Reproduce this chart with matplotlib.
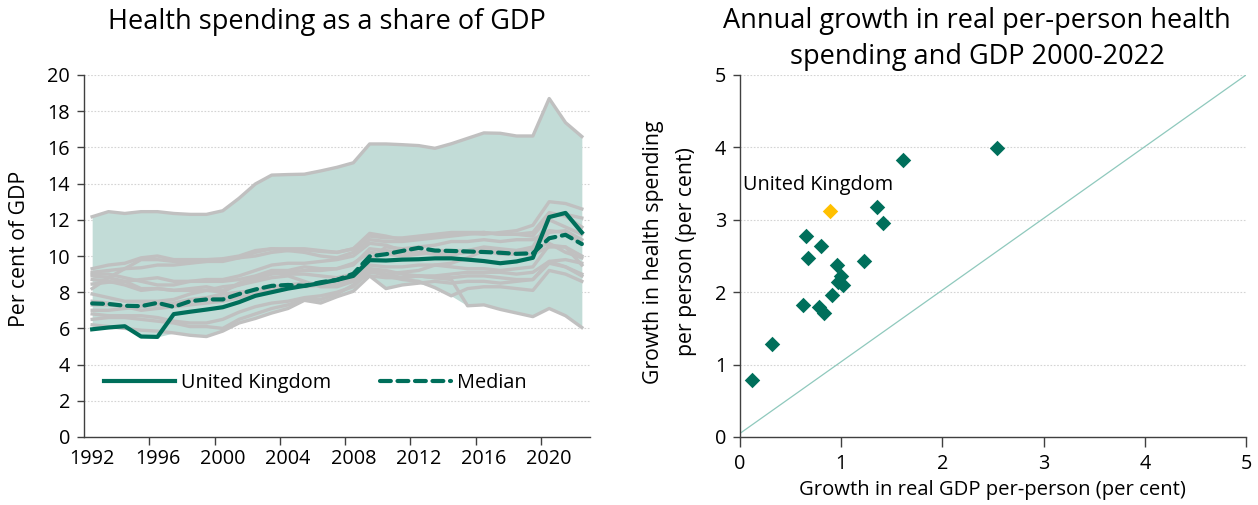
import numpy as np
import matplotlib
matplotlib.use("Agg")
import matplotlib.pyplot as plt
from matplotlib.lines import Line2D

plt.rcParams['font.family'] = ['Open Sans', 'DejaVu Sans']

# ---------------- data: left panel ----------------
years = list(range(1992, 2023))
year_ticks = [1992, 1996, 2000, 2004, 2008, 2012, 2016, 2020]

uk = [5.95, 6.05, 6.12, 5.55, 5.53, 6.79, 6.92, 7.04, 7.17, 7.45, 7.8, 8.0, 8.2, 8.35, 8.5, 8.68,
      8.9, 9.77, 9.75, 9.8, 9.82, 9.87, 9.87, 9.8, 9.72, 9.6, 9.7, 9.9, 12.15, 12.38, 11.3]
median = [7.38, 7.35, 7.25, 7.23, 7.41, 7.19, 7.5, 7.6, 7.6, 7.9, 8.15, 8.35, 8.4, 8.35, 8.55, 8.68,
          9.02, 9.98, 10.1, 10.28, 10.45, 10.3, 10.28, 10.25, 10.22, 10.18, 10.12, 10.15, 10.98, 11.17, 10.66]

country_us = [12.17, 12.45, 12.35, 12.45, 12.45, 12.35, 12.3, 12.3, 12.5, 13.19, 13.98, 14.47, 14.5, 14.52,
              14.7, 14.9, 15.15, 16.19, 16.19, 16.15, 16.1, 15.95, 16.2, 16.5, 16.8, 16.78, 16.63, 16.63,
              18.7, 17.37, 16.6]
country_a = [9.3, 9.5, 9.6, 9.9, 10.0, 9.8, 9.8, 9.8, 9.85, 10.0, 10.3, 10.4, 10.3, 10.35, 10.25, 10.2,
             10.4, 11.25, 11.1, 10.9, 11.0, 11.1, 11.2, 11.25, 11.2, 11.3, 11.4, 11.7, 13.0, 12.9, 12.6]
country_b = [8.2, 8.8, 9.3, 9.8, 9.8, 9.7, 9.7, 9.7, 9.8, 9.9, 10.2, 10.4, 10.4, 10.4, 10.3, 10.2,
             10.4, 11.1, 11.0, 11.0, 11.1, 11.2, 11.3, 11.3, 11.3, 11.2, 11.2, 11.1, 12.2, 12.3, 12.1]
country_c = [9.1, 9.2, 9.3, 9.35, 9.5, 9.5, 9.6, 9.7, 9.7, 9.9, 10.0, 10.2, 10.3, 10.2, 10.0, 9.9,
             10.2, 10.9, 10.8, 10.8, 10.9, 11.0, 11.1, 11.2, 11.3, 11.2, 11.2, 11.3, 12.4, 12.2, 11.6]
country_d = [8.7, 8.6, 8.4, 8.1, 8.2, 8.1, 8.1, 8.1, 8.0, 8.5, 8.8, 9.1, 9.0, 9.0, 8.9, 8.8,
             9.0, 9.8, 10.5, 10.4, 10.5, 10.6, 10.8, 10.8, 10.9, 10.8, 10.9, 10.9, 11.4, 11.3, 10.7]
country_e = [8.9, 8.8, 8.6, 8.2, 8.2, 8.1, 8.2, 8.3, 8.1, 8.4, 8.7, 9.0, 9.1, 9.2, 9.2, 9.3,
             9.6, 10.2, 10.1, 10.0, 10.1, 10.2, 10.1, 10.2, 10.3, 10.1, 10.1, 10.1, 10.5, 10.5, 9.5]
country_f = [8.45, 8.55, 8.6, 8.7, 8.8, 8.6, 8.6, 8.6, 8.6, 8.7, 8.9, 9.2, 9.2, 9.4, 9.3, 9.3,
             9.5, 10.4, 10.3, 10.2, 10.2, 10.3, 10.3, 10.3, 10.4, 10.3, 10.3, 10.4, 11.3, 11.4, 10.9]
country_g = [9.0, 9.0, 8.8, 8.6, 8.4, 8.4, 8.6, 8.7, 8.7, 8.9, 9.2, 9.5, 9.6, 9.6, 9.7, 9.8,
             10.0, 10.7, 10.6, 10.3, 10.2, 10.1, 10.0, 10.3, 10.5, 10.4, 10.3, 10.5, 12.0, 11.6, 11.2]
country_h = [7.9, 7.7, 7.5, 7.5, 7.5, 7.6, 7.9, 8.1, 8.3, 8.4, 8.6, 8.8, 8.9, 8.6, 8.3, 8.3,
             8.6, 9.3, 9.0, 9.1, 9.2, 9.5, 9.6, 9.9, 10.3, 10.2, 10.1, 10.4, 10.7, 10.2, 9.9]
country_i = [7.5, 7.4, 7.2, 7.0, 7.1, 7.2, 7.3, 7.4, 7.5, 7.7, 7.9, 8.1, 8.3, 8.4, 8.4, 8.5,
             8.8, 9.3, 9.2, 9.0, 8.9, 8.8, 8.8, 8.9, 8.9, 8.8, 8.7, 8.7, 9.6, 9.4, 9.0]
country_j = [6.5, 6.6, 6.6, 6.5, 6.4, 6.3, 6.1, 6.1, 6.0, 6.5, 6.8, 7.1, 7.3, 7.6, 7.6, 7.9,
             8.4, 9.1, 9.0, 8.8, 8.9, 8.8, 8.7, 7.25, 7.3, 7.05, 6.85, 6.65, 7.1, 6.7, 6.05]
country_k = [6.8, 6.7, 6.7, 6.7, 6.6, 6.4, 6.3, 6.3, 6.5, 6.9, 7.2, 7.4, 7.5, 7.7, 7.8, 8.0,
             8.3, 9.2, 8.9, 8.7, 8.6, 8.25, 7.8, 8.2, 8.3, 8.3, 8.2, 8.1, 9.2, 9.0, 8.6]
country_l = [6.2, 6.1, 6.0, 5.9, 5.85, 5.75, 5.62, 5.55, 5.85, 6.3, 6.55, 6.85, 7.1, 7.55, 7.4, 7.75,
             8.05, 8.9, 8.2, 8.4, 8.5, 8.6, 8.5, 8.6, 8.6, 8.5, 8.6, 8.7, 9.7, 9.4, 8.9]
country_m = [7.0, 7.0, 7.1, 7.2, 7.3, 7.3, 7.5, 7.6, 7.7, 7.9, 8.1, 8.3, 8.4, 8.5, 8.4, 8.5,
             8.7, 9.5, 9.4, 9.4, 9.5, 9.5, 9.4, 9.3, 9.3, 9.2, 9.3, 9.4, 10.6, 10.5, 10.0]
country_n = [7.3, 7.3, 7.2, 7.3, 7.4, 7.4, 7.6, 7.7, 7.9, 8.0, 8.1, 8.2, 8.4, 8.3, 8.4, 8.5,
             8.6, 8.9, 8.8, 8.8, 8.9, 8.9, 9.0, 9.1, 9.1, 9.1, 9.0, 9.1, 9.7, 9.8, 9.6]

other_countries = [country_us, country_a, country_b, country_c, country_d, country_e, country_f,
                   country_g, country_h, country_i, country_j, country_k, country_l, country_m, country_n]

# ---------------- data: right panel ----------------
gdp_growth = [0.12, 0.32, 0.62, 0.65, 0.67, 0.78, 0.80, 0.83, 0.91, 0.96, 0.97, 1.00, 1.02,
              1.23, 1.35, 1.41, 1.61, 2.54]
health_growth = [0.79, 1.29, 1.82, 2.77, 2.47, 1.80, 2.64, 1.71, 1.96, 2.37, 2.14, 2.22, 2.10,
                 2.43, 3.17, 2.96, 3.82, 3.99]
uk_gdp_growth = [0.89]
uk_health_growth = [3.12]
diag_x = [0, 5]
diag_y = [0.05, 5]

# ---------------- styling ----------------
GREEN = '#006f5b'
GRAY = '#c0c0c0'
FILL = '#c2dcd7'
GRID = '#d4d4d4'
TEXT = '#000000'
FS = 14.3        # tick / legend font size
LFS = 15.3       # axis label font size
TFS = 19.5       # title font size

W, H = 1258, 505
fig = plt.figure(figsize=(W / 100, H / 100), dpi=100)

def fx(px):
    return px / W

def fy(py):
    return 1 - py / H

ax1 = fig.add_axes([fx(84), fy(437), fx(590) - fx(84), fy(75) - fy(437)])
ax2 = fig.add_axes([fx(740), fy(437), fx(1246) - fx(740), fy(75) - fy(437)])

for ax in (ax1, ax2):
    for s in ('top', 'right'):
        ax.spines[s].set_visible(False)
    for s in ('left', 'bottom'):
        ax.spines[s].set_color('#404040')
        ax.spines[s].set_linewidth(1.0)
    ax.grid(axis='y', color=GRID, linestyle=(0, (1.5, 1.5)), linewidth=0.8)
    ax.set_axisbelow(True)
    ax.tick_params(axis='both', labelsize=FS, colors='#404040', labelcolor=TEXT)

# ---- left panel ----
all_series = np.array(other_countries + [uk])
lo = all_series.min(axis=0)
hi = all_series.max(axis=0)
ax1.fill_between(years, lo, hi, color=FILL, linewidth=0, zorder=1)
for s in other_countries:
    ax1.plot(years, s, color=GRAY, linewidth=2.4, solid_joinstyle='round', zorder=2)
ax1.plot(years, median, color=GREEN, linewidth=3.0, linestyle=(0, (2.6, 1.6)),
         dash_capstyle='round', zorder=3)
ax1.plot(years, uk, color=GREEN, linewidth=3.0, solid_joinstyle='round', zorder=4)

ax1.set_xlim(1991.5, 2022.5)
ax1.set_ylim(0, 20)
ax1.set_yticks(range(0, 21, 2))
ax1.set_xticks(year_ticks)
ax1.set_xticks([t - 0.5 for t in year_ticks[1:]], minor=True)
ax1.tick_params(axis='x', which='major', length=0, pad=9)
ax1.tick_params(axis='x', which='minor', length=6, width=1, color='#404040')
ax1.tick_params(axis='y', length=5, width=1, pad=5)

handles = [Line2D([], [], color=GREEN, linewidth=3.0),
           Line2D([], [], color=GREEN, linewidth=3.0, linestyle=(0, (2.6, 1.6)), dash_capstyle='round')]
leg = ax1.legend(handles, ['United Kingdom', 'Median'], loc='center left',
                 bbox_to_anchor=(0.04, 0.148), ncol=2, frameon=False, fontsize=FS,
                 handlelength=3.55, handletextpad=0.3, columnspacing=2.5, borderpad=0,
                 borderaxespad=0)

# ---- right panel ----
ax2.plot(diag_x, diag_y, color='#8fc9bd', linewidth=0.9, zorder=2)
ax2.scatter(gdp_growth, health_growth, marker='D', s=8.3 ** 2 * 0.9, color=GREEN,
            linewidths=0, zorder=3)
ax2.scatter(uk_gdp_growth, uk_health_growth, marker='D', s=8.3 ** 2 * 0.9, color='#ffc000',
            linewidths=0, zorder=4)
ax2.text(0.03, 3.48, 'United Kingdom', fontsize=FS, ha='left', va='center', color=TEXT)
ax2.set_xlim(0, 5)
ax2.set_ylim(0, 5)
ax2.set_xticks(range(0, 6))
ax2.set_yticks(range(0, 6))
ax2.tick_params(axis='x', length=7, width=1, pad=5)
ax2.tick_params(axis='y', length=5, width=1, pad=5)

# ---- titles & labels ----
fig.text(fx(326.5), fy(22), 'Health spending as a share of GDP', fontsize=TFS,
         ha='center', va='center', color=TEXT)
fig.text(fx(977), fy(39), 'Annual growth in real per-person health\nspending and GDP 2000-2022',
         fontsize=TFS, ha='center', va='center', linespacing=1.34, color=TEXT)
fig.text(fx(20), fy(249), 'Per cent of GDP', fontsize=LFS, rotation=90,
         ha='center', va='center', color=TEXT)
fig.text(fx(670), fy(252), 'Growth in health spending\nper person (per cent)', fontsize=LFS,
         rotation=90, ha='center', va='center', linespacing=1.75, color=TEXT)
fig.text(fx(992), fy(490), 'Growth in real GDP per-person (per cent)', fontsize=14.6,
         ha='center', va='center', color=TEXT)

fig.savefig('out.png', dpi=100)
